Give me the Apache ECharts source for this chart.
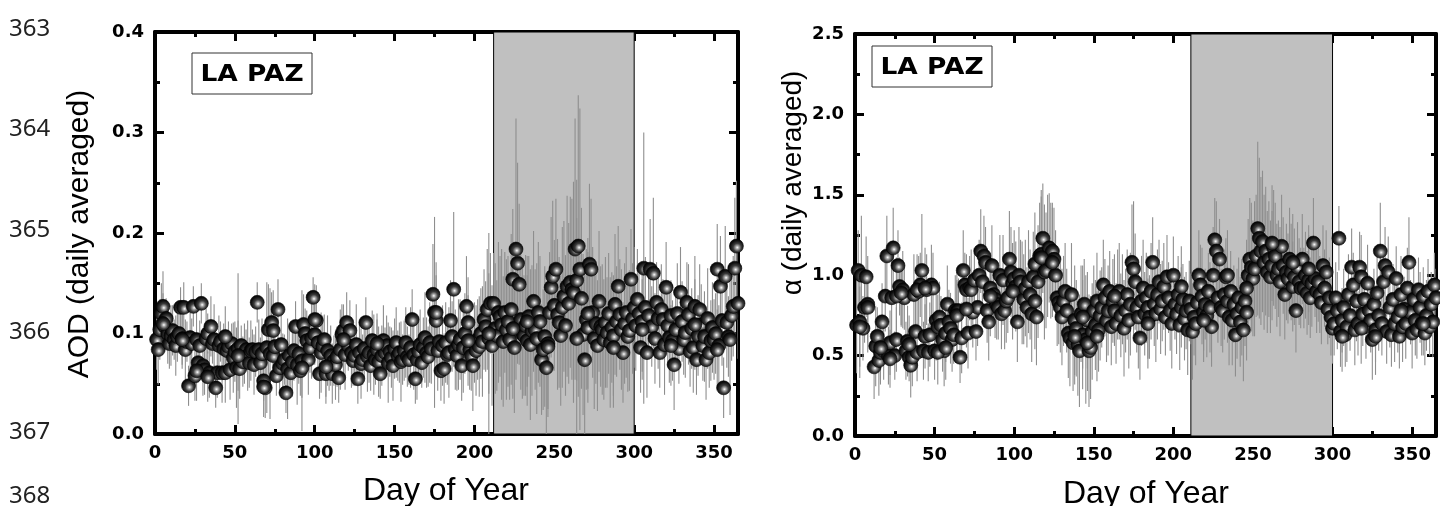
<!DOCTYPE html>
<html><head><meta charset="utf-8">
<script src="https://cdn.jsdelivr.net/npm/echarts@6.0.0/dist/echarts.min.js"></script>
<style>html,body{margin:0;padding:0;background:#fff}#c{width:1440px;height:506px}</style>
</head><body><div id="c"></div>
<script>
// ---------- data ----------
const dayMin = 0, dayMax = 365, dayInterval = 50;
const shadeStartAod = 212, shadeStartAlpha = 211, shadeEnd = 300;
const aodMin = 0, aodMax = 0.4, aodInterval = 0.1;
const alphaMin = 0, alphaMax = 2.5, alphaInterval = 0.5;
const stationName = 'LA PAZ';
const lineNumbers = ['363', '364', '365', '366', '367', '368'];

// AOD, day = index + 1
const aodVal = [
0.094,0.084,0.104,0.12,0.127,0.107,0.115,0.1,0.09,0.098,
0.103,0.094,0.088,0.097,0.1,0.126,0.095,0.126,0.084,0.092,
0.048,0.096,0.09,0.127,0.058,0.094,0.071,0.088,0.13,0.068,
0.064,0.095,0.1,0.061,0.107,0.09,0.094,0.046,0.061,0.088,
0.092,0.061,0.085,0.061,0.083,0.087,0.064,0.09,0.076,0.082,
0.066,0.085,0.065,0.088,0.072,0.08,0.084,0.078,0.071,0.083,
0.084,0.069,0.082,0.131,0.084,0.071,0.08,0.053,0.046,0.086,
0.104,0.08,0.111,0.078,0.087,0.058,0.124,0.066,0.089,0.07,
0.074,0.041,0.065,0.078,0.061,0.072,0.083,0.107,0.069,0.08,
0.063,0.073,0.109,0.1,0.093,0.074,0.086,0.095,0.136,0.099,
0.113,0.091,0.06,0.081,0.088,0.094,0.06,0.083,0.068,0.078,
0.06,0.073,0.069,0.077,0.056,0.084,0.099,0.103,0.079,0.111,
0.088,0.103,0.081,0.073,0.078,0.089,0.055,0.081,0.07,0.074,
0.085,0.111,0.077,0.081,0.068,0.093,0.079,0.074,0.084,0.072,
0.06,0.078,0.093,0.081,0.088,0.071,0.082,0.076,0.068,0.085,
0.091,0.078,0.081,0.072,0.074,0.083,0.091,0.077,0.074,0.086,
0.114,0.079,0.055,0.074,0.082,0.089,0.071,0.086,0.096,0.081,
0.077,0.091,0.085,0.139,0.121,0.113,0.083,0.092,0.063,0.088,
0.065,0.091,0.079,0.081,0.113,0.097,0.144,0.084,0.078,0.089,
0.094,0.068,0.086,0.1,0.127,0.111,0.084,0.078,0.068,0.091,
0.083,0.094,0.087,0.1,0.092,0.114,0.107,0.124,0.095,0.13,
0.088,0.13,0.105,0.098,0.121,0.117,0.109,0.092,0.121,0.104,
0.112,0.094,0.124,0.154,0.086,0.184,0.17,0.149,0.114,0.1,
0.098,0.108,0.093,0.117,0.089,0.103,0.132,0.104,0.095,0.121,
0.112,0.074,0.084,0.097,0.066,0.09,0.121,0.146,0.157,0.128,
0.164,0.119,0.111,0.098,0.126,0.137,0.108,0.147,0.13,0.151,
0.144,0.141,0.184,0.153,0.187,0.164,0.135,0.099,0.074,0.114,
0.106,0.169,0.164,0.121,0.095,0.11,0.088,0.132,0.107,0.104,
0.094,0.111,0.101,0.12,0.091,0.106,0.098,0.129,0.112,0.147,
0.119,0.104,0.081,0.11,0.121,0.097,0.103,0.154,0.115,0.126,
0.108,0.134,0.12,0.086,0.112,0.165,0.126,0.081,0.118,0.164,
0.107,0.16,0.095,0.131,0.115,0.081,0.124,0.114,0.089,0.146,
0.108,0.096,0.118,0.093,0.069,0.104,0.12,0.085,0.141,0.112,
0.094,0.101,0.131,0.119,0.082,0.105,0.086,0.127,0.074,0.098,
0.124,0.109,0.088,0.097,0.074,0.115,0.081,0.093,0.106,0.094,
0.1,0.164,0.088,0.147,0.113,0.046,0.157,0.111,0.097,0.094,
0.118,0.127,0.165,0.187,0.13];
const aodErr = [
0.03,0.035,0.03,0.03,0.035,0.025,0.02,0.03,0.025,0.03,
0.025,0.02,0.03,0.025,0.02,0.02,0.03,0.025,0.03,0.02,
0.02,0.03,0.025,0.02,0.025,0.03,0.02,0.025,0.02,0.03,
0.025,0.03,0.02,0.025,0.03,0.02,0.035,0.02,0.025,0.03,
0.02,0.03,0.025,0.03,0.02,0.025,0.03,0.02,0.035,0.03,
0.04,0.075,0.03,0.02,0.025,0.03,0.02,0.035,0.025,0.03,
0.02,0.03,0.025,0.02,0.03,0.025,0.035,0.02,0.03,0.065,
0.045,0.065,0.03,0.025,0.03,0.02,0.03,0.025,0.035,0.03,
0.025,0.02,0.05,0.03,0.025,0.035,0.03,0.025,0.04,0.03,
0.025,0.07,0.03,0.025,0.03,0.035,0.025,0.04,0.02,0.03,
0.035,0.03,0.025,0.04,0.03,0.025,0.03,0.035,0.025,0.03,
0.03,0.025,0.035,0.03,0.025,0.04,0.03,0.025,0.035,0.03,
0.025,0.03,0.035,0.025,0.03,0.04,0.025,0.03,0.035,0.025,
0.03,0.025,0.035,0.03,0.025,0.03,0.04,0.025,0.03,0.035,
0.025,0.03,0.035,0.025,0.03,0.04,0.025,0.03,0.035,0.03,
0.035,0.025,0.03,0.04,0.025,0.03,0.035,0.03,0.025,0.04,
0.03,0.035,0.025,0.04,0.03,0.035,0.025,0.03,0.045,0.035,
0.03,0.04,0.035,0.05,0.095,0.045,0.04,0.035,0.03,0.04,
0.035,0.04,0.03,0.045,0.04,0.035,0.077,0.04,0.035,0.045,
0.04,0.035,0.045,0.04,0.05,0.045,0.04,0.035,0.045,0.04,
0.045,0.04,0.05,0.045,0.055,0.05,0.045,0.06,0.105,0.05,
0.06,0.05,0.065,0.055,0.07,0.06,0.075,0.065,0.06,0.07,
0.065,0.06,0.075,0.07,0.065,0.13,0.1,0.08,0.07,0.065,
0.06,0.07,0.065,0.06,0.075,0.065,0.07,0.06,0.075,0.07,
0.065,0.055,0.06,0.07,0.08,0.065,0.06,0.07,0.075,0.065,
0.07,0.075,0.065,0.07,0.08,0.075,0.07,0.09,0.08,0.085,
0.09,0.11,0.13,0.1,0.15,0.16,0.09,0.08,0.085,0.07,
0.075,0.08,0.07,0.065,0.07,0.06,0.065,0.07,0.06,0.065,
0.06,0.065,0.055,0.06,0.065,0.055,0.06,0.07,0.055,0.06,
0.055,0.06,0.05,0.06,0.065,0.055,0.06,0.05,0.055,0.06,
0.045,0.05,0.04,0.045,0.05,0.135,0.05,0.045,0.04,0.05,
0.04,0.075,0.045,0.04,0.05,0.035,0.045,0.04,0.05,0.045,
0.04,0.045,0.035,0.04,0.045,0.04,0.05,0.035,0.045,0.04,
0.035,0.045,0.04,0.05,0.035,0.04,0.045,0.05,0.035,0.04,
0.045,0.04,0.035,0.045,0.04,0.05,0.035,0.04,0.045,0.04,
0.04,0.045,0.04,0.05,0.045,0.03,0.05,0.045,0.04,0.075,
0.045,0.05,0.07,0.065,0.055];
const aodExtraDay = [5,17,26,33,44,52,68,74,92,100,107,118,139,176,196,209,224,233,246,264,271,287,305,323,338,352];
const aodExtraVal = [0.11,0.094,0.063,0.057,0.097,0.078,0.047,0.103,0.066,0.114,0.067,0.094,0.09,0.121,0.093,0.1,0.105,0.112,0.087,0.095,0.12,0.086,0.104,0.088,0.109,0.084];
const aodExtraErr = [0.03,0.025,0.03,0.025,0.03,0.035,0.03,0.04,0.03,0.035,0.03,0.035,0.03,0.05,0.045,0.06,0.07,0.065,0.07,0.12,0.075,0.06,0.05,0.04,0.045,0.04];

// Angstrom exponent, day = index + 1
const alphaVal = [
0.69,1.03,0.71,1.0,0.67,0.8,0.99,0.82,null,null,
null,0.43,0.56,0.62,0.47,0.52,0.71,0.53,0.87,1.12,
0.5,0.58,0.86,1.17,0.5,0.6,1.06,0.93,0.88,0.91,
0.86,0.53,0.59,0.49,0.44,0.49,0.88,0.65,0.52,0.9,
0.94,1.03,0.53,0.62,0.91,0.52,0.63,0.94,0.92,0.53,
0.72,0.68,0.74,0.69,0.6,0.53,0.64,0.82,0.71,0.67,
0.6,0.63,0.78,0.77,0.78,0.49,0.61,1.03,0.94,0.91,
0.64,0.92,0.91,0.77,0.97,0.65,0.8,1.0,1.15,0.96,
1.12,1.08,0.78,0.71,0.92,1.06,0.88,0.85,0.82,0.8,
1.0,0.76,0.97,0.78,0.84,0.86,1.1,1.02,0.95,0.98,
0.93,0.71,1.0,0.96,0.89,0.85,0.92,0.8,0.96,0.88,
0.76,0.99,1.07,0.74,0.96,1.12,1.13,1.23,1.02,1.03,
1.12,1.17,1.09,1.15,1.1,1.0,0.86,0.83,0.8,0.74,
0.84,0.9,0.78,0.64,0.61,0.88,0.58,0.72,0.67,0.57,
0.53,0.76,0.63,0.82,0.6,0.72,0.53,0.55,0.65,0.78,
0.69,0.84,0.66,0.75,0.8,0.94,0.86,0.72,0.78,0.9,
0.68,0.84,0.78,0.7,0.88,0.9,0.75,0.85,0.67,0.78,
0.88,0.72,0.82,1.08,1.04,0.96,0.8,0.74,0.61,0.84,
0.92,0.76,0.86,0.8,0.74,0.9,1.08,0.82,0.76,0.88,
0.96,0.79,0.84,0.93,0.74,0.99,0.86,0.78,0.7,1.0,
0.82,0.76,0.88,0.69,0.8,0.85,0.73,0.78,0.66,0.84,
0.79,0.65,0.74,0.7,0.83,1.0,0.94,0.87,0.77,0.82,
0.75,0.9,0.8,0.68,1.0,1.22,1.15,0.86,1.1,0.8,
0.78,0.88,0.99,0.84,0.74,0.9,0.72,0.82,0.63,0.76,
0.86,0.71,0.8,0.66,0.84,0.77,1.0,1.1,1.05,0.98,
1.04,1.12,1.29,1.23,1.15,1.21,1.08,1.15,1.02,1.1,
0.99,1.06,1.17,1.12,1.0,1.04,0.96,1.18,1.06,0.88,
1.02,0.98,1.1,1.02,0.93,0.99,0.78,1.05,0.96,0.92,
1.1,0.92,1.0,0.89,0.97,0.86,0.95,1.2,0.98,0.9,
0.96,0.88,0.83,1.06,0.92,1.02,0.79,0.86,0.74,0.67,
0.7,0.86,0.78,1.23,0.65,0.72,0.8,0.63,0.68,0.88,
0.75,1.05,0.94,0.66,0.84,0.7,1.05,0.99,0.76,0.85,
0.68,0.95,0.78,0.72,0.6,0.82,0.66,0.89,0.75,1.15,
0.7,0.96,1.06,0.65,1.02,0.8,0.63,0.85,0.7,0.98,
0.74,0.62,0.88,0.68,0.79,0.7,0.92,1.08,0.77,0.64,
0.85,0.72,0.66,0.91,0.8,0.7,0.87,0.64,0.75,0.9,
0.68,0.82,0.71,0.94,0.86];
const alphaErr = [
0.3,0.25,0.35,0.37,0.2,0.22,0.25,0.3,0.2,0.2,
0.2,0.2,0.25,0.18,0.22,0.2,0.24,0.18,0.22,0.25,
0.18,0.2,0.24,0.25,0.15,0.2,0.22,0.18,0.2,0.24,
0.2,0.18,0.22,0.15,0.2,0.18,0.25,0.2,0.18,0.22,
0.2,0.35,0.18,0.2,0.22,0.18,0.2,0.25,0.22,0.18,
0.25,0.2,0.22,0.18,0.2,0.22,0.18,0.24,0.2,0.22,
0.2,0.18,0.22,0.25,0.2,0.16,0.22,0.25,0.2,0.22,
0.22,0.2,0.25,0.22,0.2,0.18,0.24,0.22,0.26,0.2,
0.25,0.22,0.2,0.24,0.22,0.25,0.2,0.24,0.22,0.2,
0.25,0.22,0.28,0.24,0.26,0.22,0.3,0.28,0.25,0.3,
0.28,0.25,0.3,0.26,0.32,0.28,0.3,0.25,0.32,0.28,
0.3,0.28,0.32,0.3,0.35,0.33,0.4,0.34,0.42,0.36,
0.38,0.34,0.36,0.3,0.32,0.28,0.3,0.26,0.28,0.3,
0.28,0.3,0.26,0.28,0.3,0.32,0.3,0.34,0.3,0.32,
0.35,0.3,0.34,0.28,0.4,0.3,0.35,0.32,0.3,0.28,
0.28,0.3,0.26,0.28,0.25,0.28,0.24,0.26,0.28,0.25,
0.24,0.26,0.22,0.25,0.28,0.3,0.26,0.28,0.3,0.26,
0.28,0.3,0.32,0.36,0.42,0.3,0.28,0.32,0.26,0.28,
0.3,0.26,0.28,0.32,0.26,0.3,0.28,0.26,0.3,0.28,
0.26,0.28,0.25,0.27,0.24,0.26,0.22,0.25,0.28,0.24,
0.22,0.25,0.24,0.28,0.25,0.22,0.26,0.24,0.28,0.25,
0.22,0.3,0.24,0.26,0.22,0.28,0.25,0.3,0.24,0.22,
0.26,0.24,0.28,0.25,0.3,0.26,0.31,0.28,0.25,0.24,
0.26,0.28,0.24,0.26,0.3,0.25,0.28,0.24,0.26,0.28,
0.25,0.28,0.3,0.32,0.28,0.3,0.35,0.38,0.4,0.36,
0.42,0.38,0.54,0.5,0.46,0.44,0.42,0.4,0.38,0.36,
0.35,0.34,0.36,0.33,0.32,0.3,0.34,0.32,0.3,0.28,
0.3,0.28,0.32,0.3,0.28,0.3,0.26,0.28,0.27,0.25,
0.28,0.25,0.27,0.26,0.28,0.25,0.27,0.28,0.24,0.26,
0.25,0.24,0.26,0.25,0.24,0.26,0.22,0.25,0.24,0.22,
0.2,0.22,0.24,0.2,0.22,0.2,0.24,0.2,0.22,0.25,
0.22,0.24,0.2,0.22,0.25,0.2,0.22,0.26,0.2,0.22,
0.2,0.24,0.22,0.2,0.25,0.22,0.2,0.24,0.22,0.3,
0.2,0.22,0.24,0.2,0.22,0.25,0.2,0.22,0.24,0.2,
0.22,0.2,0.24,0.22,0.2,0.22,0.25,0.28,0.2,0.22,
0.2,0.22,0.18,0.2,0.22,0.2,0.18,0.2,0.22,0.2,
0.18,0.2,0.22,0.2,0.18];
const alphaExtraDay = [3,8,16,22,26,29,34,39,44,52,57,64,70,85,99,113,117,124,138,143,146,152,163,184,205,219,234,246,262,275,285,306,318,327,343,357];
const alphaExtraVal = [0.68,0.8,0.55,0.48,0.87,0.89,0.57,0.91,0.92,0.52,0.55,0.75,0.79,0.87,0.9,0.84,1.11,1.08,0.62,0.74,0.58,0.62,0.87,0.7,0.93,0.72,1.0,0.92,1.2,1.08,1.04,0.62,0.67,0.62,0.78,0.7];
const alphaExtraErr = [0.25,0.22,0.2,0.18,0.24,0.2,0.18,0.22,0.25,0.2,0.2,0.22,0.24,0.25,0.3,0.3,0.38,0.34,0.3,0.32,0.3,0.28,0.26,0.28,0.25,0.26,0.28,0.3,0.36,0.3,0.27,0.22,0.22,0.24,0.2,0.2];

// ---------- build ----------
function build(vals, errs, exDays, exVals, exErrs) {
  const out = [];
  vals.forEach((v, i) => { if (v != null) out.push([i + 1, v, errs[i]]); });
  exDays.forEach((d, i) => out.push([d, exVals[i], exErrs[i]]));
  return out;
}
const aodData = build(aodVal, aodErr, aodExtraDay, aodExtraVal, aodExtraErr);
const alphaData = build(alphaVal, alphaErr, alphaExtraDay, alphaExtraVal, alphaExtraErr);

const chart = echarts.init(document.getElementById('c'), null, {renderer: 'canvas'});

const tickFont = {color: '#000', fontFamily: 'DejaVu Sans', fontWeight: 'bold', fontSize: 18};
function xAxis(grid, pos, labels) {
  return {
    type: 'value', gridIndex: grid, position: pos, min: dayMin, max: dayMax, interval: dayInterval,
    axisLine: {show: true, onZero: false, lineStyle: {color: '#000', width: 4}},
    axisTick: {show: true, inside: true, length: 9, lineStyle: {color: '#000', width: 3}},
    minorTick: {show: true, splitNumber: 2, length: 5, lineStyle: {color: '#000', width: 3}},
    axisLabel: Object.assign({show: labels, margin: 10, showMaxLabel: false}, tickFont),
    splitLine: {show: false}, minorSplitLine: {show: false}
  };
}
function yAxis(grid, pos, labels, mn, mx, iv) {
  return {
    type: 'value', gridIndex: grid, position: pos, min: mn, max: mx, interval: iv,
    axisLine: {show: true, onZero: false, lineStyle: {color: '#000', width: 4}},
    axisTick: {show: true, inside: true, length: 9, lineStyle: {color: '#000', width: 3}},
    minorTick: {show: true, splitNumber: 2, length: 5, lineStyle: {color: '#000', width: 3}},
    axisLabel: Object.assign({show: labels, margin: 11, formatter: v => v.toFixed(1)}, tickFont),
    splitLine: {show: false}, minorSplitLine: {show: false}
  };
}

const sphere = {
  type: 'radial', x: 0.56, y: 0.6, r: 0.62,
  colorStops: [
    {offset: 0, color: '#ffffff'},
    {offset: 0.18, color: '#a8a8a8'},
    {offset: 0.45, color: '#3c3c3c'},
    {offset: 0.75, color: '#111'},
    {offset: 1, color: '#000'}
  ]
};

function errSeries(xi, yi, data) {
  return {
    type: 'custom', xAxisIndex: xi, yAxisIndex: yi, data: data, z: 2, clip: true, silent: true,
    encode: {x: 0, y: 1},
    renderItem: function (params, api) {
      const x = api.value(0), y = api.value(1), e = api.value(2);
      const a = api.coord([x, y + e]);
      const b = api.coord([x, y - e]);
      return {type: 'line', shape: {x1: a[0], y1: a[1], x2: b[0], y2: b[1]},
        style: {stroke: '#8e8e8e', lineWidth: 1.1}};
    }
  };
}
function dotSeries(xi, yi, data) {
  return {
    type: 'scatter', xAxisIndex: xi, yAxisIndex: yi, data: data, z: 3, silent: true,
    symbol: 'circle', symbolSize: 14,
    itemStyle: {color: sphere, borderColor: '#000', borderWidth: 0.6, opacity: 1}
  };
}
function shadeSeries(xi, yi, start) {
  return {
    type: 'line', xAxisIndex: xi, yAxisIndex: yi, data: [], z: 1, silent: true,
    markArea: {silent: true, z: 1,
      itemStyle: {color: '#c0c0c0', borderColor: '#000', borderWidth: 1},
      data: [[{xAxis: start}, {xAxis: shadeEnd}]]}
  };
}

const nameFont = '30px "Liberation Sans", Arial, sans-serif';
const graphics = [];
const lnY = [33, 133, 234, 336, 436, 500];
lineNumbers.forEach((t, i) => graphics.push({
  type: 'text', left: 9, top: lnY[i] - 16, silent: true,
  style: {text: t, font: '24px "Noto Sans", sans-serif', fill: '#222'}
}));
function stationBox(x, y) {
  graphics.push({type: 'rect', shape: {x: x, y: y, width: 120, height: 41},
    style: {fill: '#fff', stroke: '#333', lineWidth: 1}, z: 10, silent: true});
  graphics.push({type: 'text', x: x + 60, y: y + 22, scaleX: 1.15, z: 11, silent: true,
    style: {text: stationName, font: '900 23px "DejaVu Sans", sans-serif', fill: '#000',
      textAlign: 'center', textVerticalAlign: 'middle'}});
}
stationBox(192, 53);
stationBox(872, 46);
graphics.push({type: 'text', x: 80, y: 234, rotation: Math.PI / 2, silent: true,
  style: {text: 'AOD (daily averaged)', font: nameFont, fill: '#000', textAlign: 'center', textVerticalAlign: 'middle'}});
graphics.push({type: 'text', x: 793, y: 183, rotation: Math.PI / 2, silent: true,
  style: {text: 'α (daily averaged)', font: '28px "Liberation Sans", Arial, sans-serif', fill: '#000', textAlign: 'center', textVerticalAlign: 'middle'}});
graphics.push({type: 'text', x: 446, y: 491, silent: true,
  style: {text: 'Day of Year', font: '32px "Liberation Sans", Arial, sans-serif', fill: '#000', textAlign: 'center', textVerticalAlign: 'middle'}});
graphics.push({type: 'text', x: 1146, y: 494, silent: true,
  style: {text: 'Day of Year', font: '32px "Liberation Sans", Arial, sans-serif', fill: '#000', textAlign: 'center', textVerticalAlign: 'middle'}});

chart.setOption({
  animation: false,
  backgroundColor: '#fff',
  grid: [
    {left: 155, top: 32, width: 583, height: 402},
    {left: 855, top: 34, width: 581, height: 402}
  ],
  xAxis: [xAxis(0, 'bottom', true), xAxis(0, 'top', false), xAxis(1, 'bottom', true), xAxis(1, 'top', false)],
  yAxis: [
    yAxis(0, 'left', true, aodMin, aodMax, aodInterval), yAxis(0, 'right', false, aodMin, aodMax, aodInterval),
    yAxis(1, 'left', true, alphaMin, alphaMax, alphaInterval), yAxis(1, 'right', false, alphaMin, alphaMax, alphaInterval)
  ],
  series: [
    shadeSeries(0, 0, shadeStartAod), errSeries(0, 0, aodData), dotSeries(0, 0, aodData),
    shadeSeries(2, 2, shadeStartAlpha), errSeries(2, 2, alphaData), dotSeries(2, 2, alphaData)
  ],
  graphic: graphics
});
</script>
</body></html>
